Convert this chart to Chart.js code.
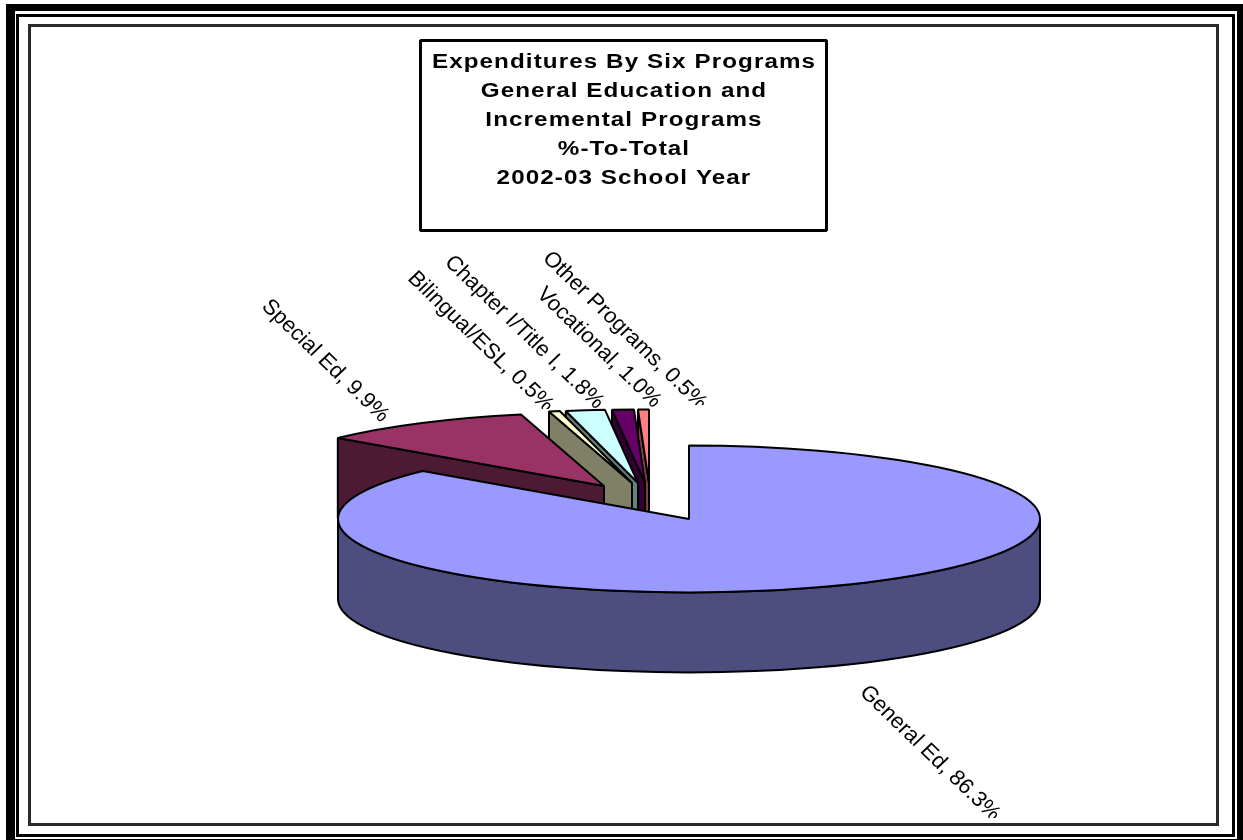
<!DOCTYPE html>
<html>
<head>
<meta charset="utf-8">
<title>Expenditures By Six Programs</title>
<script src="https://cdn.jsdelivr.net/npm/chart.js@4/dist/chart.umd.min.js"></script>
<style>
  html, body { margin: 0; padding: 0; background: #fff; }
  canvas { display: block; }
</style>
</head>
<body>
<canvas id="programPie" width="1243" height="840"></canvas>
<script>
// Data: share of total expenditures, clockwise from twelve o'clock
const programs = ["General Ed", "Special Ed", "Bilingual/ESL", "Chapter I/Title I", "Vocational", "Other Programs"];
const shares = [86.3, 9.9, 0.5, 1.8, 1.0, 0.5];
const titleLines = ["Expenditures By Six Programs", "General Education and", "Incremental Programs", "%-To-Total", "2002-03 School Year"];

// Face and side colours per slice
const faceColors = ["#9999FF", "#993366", "#FFFFCC", "#CCFFFF", "#660066", "#FF8080"];
const sideColors = ["#4D4D80", "#4D1A33", "#808066", "#668080", "#330033", "#804040"];

// Pulled-out slices: screen offset from the pie centre
const explodeX = [0, -85, -57, -51, -44, -40];
const explodeY = [0, -33, -36, -36, -36, -36];

// Rotated label anchors (start of text) and the y where each label gets cut off
const labelX = [863, 265, 411, 448, 540, 546];
const labelY = [689, 303, 275, 259, 291, 255];
const labelCutY = [818, 423, 409, 408, 408, 405];

const RX = 351, RY = 73.5, DEPTH = 80;

function ink(ctx, width) {
    ctx.strokeStyle = "#000";
    ctx.lineWidth = width;
    ctx.lineJoin = "bevel";
    ctx.stroke();
}

// Draws the flat arcs from the library as a tilted, extruded pie
const tiltedPie = {
    id: "tiltedPie",
    beforeDatasetsDraw(chart) {
        const ctx = chart.ctx;
        const arcs = chart.getDatasetMeta(0).data;
        for (let i = arcs.length - 1; i >= 0; i--) {
            const el = arcs[i];
            const cx = el.x + explodeX[i];
            const cy = el.y + explodeY[i];
            const a0 = el.startAngle, a1 = el.endAngle;
            const ox = cx + RX * Math.cos(a0), oy = cy + RY * Math.sin(a0);

            // cut face along the leading edge
            ctx.beginPath();
            ctx.moveTo(cx, cy);
            ctx.lineTo(ox, oy);
            ctx.lineTo(ox, oy + DEPTH);
            ctx.lineTo(cx, cy + DEPTH);
            ctx.closePath();
            ctx.fillStyle = sideColors[i];
            ctx.fill();
            ink(ctx, 2);

            // outer wall, front half only
            const from = Math.max(a0, 0), to = Math.min(a1, Math.PI);
            if (to > from) {
                ctx.beginPath();
                ctx.ellipse(cx, cy, RX, RY, 0, from, to);
                ctx.ellipse(cx, cy + DEPTH, RX, RY, 0, to, from, true);
                ctx.closePath();
                ctx.fillStyle = sideColors[i];
                ctx.fill();
                ink(ctx, 2);
            }

            // top face: the arc element squashed into place
            ctx.save();
            ctx.translate(cx, cy);
            ctx.scale(RX / el.outerRadius, RY / el.outerRadius);
            ctx.translate(-el.x, -el.y);
            el.draw(ctx);
            ctx.restore();

            ctx.beginPath();
            ctx.moveTo(cx, cy);
            ctx.ellipse(cx, cy, RX, RY, 0, a0, a1);
            ctx.closePath();
            ink(ctx, 2);
        }
        return false;
    }
};

const pageFurniture = {
    id: "pageFurniture",
    beforeDraw(chart) {
        const ctx = chart.ctx;
        ctx.save();
        ctx.fillStyle = "#fff";
        ctx.fillRect(0, 0, 1243, 840);
        // heavy outer band, then the two thin rules inside it
        ctx.fillStyle = "#000";
        ctx.fillRect(6, 4, 1237, 836);
        ctx.fillStyle = "#fff";
        ctx.fillRect(15, 11, 1222, 828);
        ctx.strokeStyle = "#000";
        ctx.lineWidth = 3;
        ctx.strokeRect(17.5, 15.5, 1216, 820);
        ctx.strokeStyle = "#2a2a2a";
        ctx.strokeRect(29.5, 25.5, 1188, 799);
        ctx.restore();
    },
    afterDraw(chart) {
        const ctx = chart.ctx;
        ctx.save();

        // title box
        ctx.fillStyle = "#fff";
        ctx.fillRect(420, 40, 407, 191);
        ctx.strokeStyle = "#000";
        ctx.lineWidth = 3;
        ctx.strokeRect(420.5, 40.5, 406, 190);
        ctx.fillStyle = "#000";
        ctx.font = "bold 20px 'Liberation Sans', Arial, sans-serif";
        ctx.textAlign = "center";
        ctx.textBaseline = "alphabetic";
        ctx.letterSpacing = "0.9px";
        titleLines.forEach((line, i) => {
            ctx.save();
            ctx.translate(624, 68 + i * 28.9);
            ctx.scale(1.21, 1);
            ctx.fillText(line, 0, 0);
            ctx.restore();
        });
        ctx.letterSpacing = "0px";

        // slanted data labels
        ctx.font = "21.5px 'Liberation Sans', Arial, sans-serif";
        ctx.textAlign = "left";
        ctx.textBaseline = "middle";
        programs.forEach((name, i) => {
            ctx.save();
            ctx.beginPath();
            ctx.rect(0, 0, 1243, labelCutY[i]);
            ctx.clip();
            ctx.translate(labelX[i], labelY[i]);
            ctx.scale(1.04, 1);
            ctx.rotate(Math.PI / 4);
            ctx.fillText(name + ", " + shares[i].toFixed(1) + "%", 0, 0);
            ctx.restore();
        });
        ctx.restore();
    }
};

const programPie = new Chart(document.getElementById("programPie").getContext("2d"), {
    type: "pie",
    data: {
        labels: programs,
        datasets: [{
            data: shares,
            backgroundColor: faceColors,
            borderWidth: 0
        }]
    },
    options: {
        responsive: false,
        animation: false,
        // leaves the arc centre at (689, 519)
        layout: { padding: { left: 338, right: 203, top: 198, bottom: 0 } },
        plugins: {
            legend: { display: false },
            title: { display: false },
            tooltip: { enabled: false }
        }
    },
    plugins: [tiltedPie, pageFurniture]
});
</script>
</body>
</html>
